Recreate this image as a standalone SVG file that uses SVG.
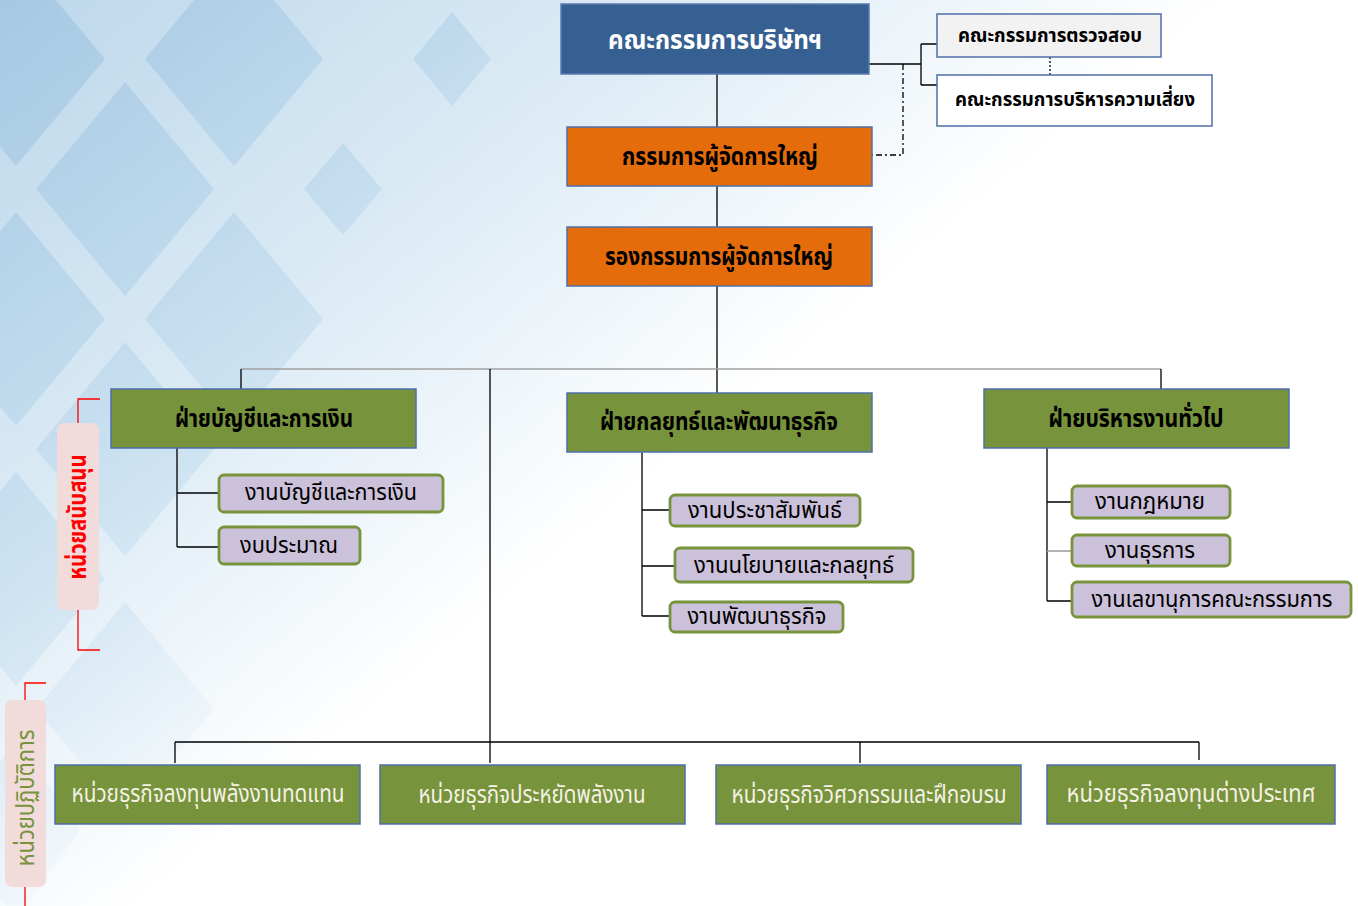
<svg xmlns="http://www.w3.org/2000/svg" width="1358" height="906" viewBox="0 0 1358 906">
<defs>
<linearGradient id="bgfade" x1="0" y1="0" x2="1" y2="0.8">
<stop offset="0" stop-color="#bcd7eb"/>
<stop offset="0.3" stop-color="#dcebf5"/>
<stop offset="0.55" stop-color="#ffffff"/>
</linearGradient>
<linearGradient id="diafade" gradientUnits="userSpaceOnUse" x1="0" y1="0" x2="520" y2="640">
<stop offset="0" stop-color="#9cc2df" stop-opacity="0.7"/>
<stop offset="0.6" stop-color="#b6d6ec" stop-opacity="0.4"/>
<stop offset="1" stop-color="#d8e9f4" stop-opacity="0"/>
</linearGradient>
<style>
.t{font-family:"Noto Sans Thai","Liberation Sans",sans-serif;text-anchor:middle;dominant-baseline:central}
.b{font-weight:bold}
.ln{stroke:#000;stroke-width:1.3;fill:none}
.lg{stroke:#a0a0a0;stroke-width:1.6;fill:none}
.board{fill:#376092;stroke:#5a7bb0;stroke-width:1.5}
.org{fill:#e46c0a;stroke:#4f6fa8;stroke-width:1.5}
.grn{fill:#77933c;stroke:#4f6fa8;stroke-width:1.5}
.sub{fill:#ccc1da;stroke:#77933c;stroke-width:2.8}
.cm{stroke:#4f6fa8;stroke-width:1.5}
.tag{fill:#f2dcdb}
.rb{stroke:#ff0000;stroke-width:1.3;fill:none}
</style>
</defs>
<g id="background">
<rect width="1358" height="906" fill="#ffffff"/>
<rect width="1358" height="906" fill="url(#bgfade)"/>
<g fill="url(#diafade)">
<polygon points="234,-48 323,59 234,166 145,59"/>
<polygon points="16,-48 105,59 16,166 -73,59"/>
<polygon points="125,82 214,189 125,296 36,189"/>
<polygon points="16,212 105,319 16,426 -73,319"/>
<polygon points="234,212 323,319 234,426 145,319"/>
<polygon points="125,342 214,449 125,556 36,449"/>
<polygon points="16,472 105,579 16,686 -73,579"/>
<polygon points="125,602 214,709 125,816 36,709"/>
<polygon points="452,12 491,59 452,106 413,59"/>
<polygon points="343,143 382,189 343,235 304,189"/>
<polygon points="16,740 80,830 16,920 -48,830"/>
</g>
</g>
<g id="connectors">
<path class="ln" d="M717,74V127M717,186V227M717,286V393"/>
<path class="lg" d="M241,369H1161"/>
<path class="ln" d="M241,369V389M1161,369V389M490,369V763"/>
<path class="ln" d="M175,742H1199M175,742V763M860,742V763M1199,742V760"/>
<path class="ln" d="M177,448V547M177,493H219M177,547H219"/>
<path class="ln" d="M642,452V616M642,510H670M642,566H675M642,616H670"/>
<path class="ln" d="M1047,448V601M1047,502H1072M1047,601H1072"/>
<path class="lg" d="M1047,551H1072"/>
<path class="ln" d="M869,64H921M921,44V85M921,44H937M921,85H937"/>
<path class="ln" d="M1050,57V75" stroke-dasharray="2,2"/>
<path class="ln" d="M903,64V155H872" stroke-dasharray="6,3,2,3"/>
</g>
<g id="n-board">
<rect class="board" x="561" y="4" width="308" height="70"/>
<text class="t b" x="715" y="40" font-size="27" fill="#ffffff" textLength="214" lengthAdjust="spacingAndGlyphs">คณะกรรมการบริษัทฯ</text>
</g>
<g id="n-audit">
<rect class="cm" x="937" y="14" width="224" height="43" fill="#f2f2f2"/>
<text class="t b" x="1050" y="36" font-size="20" fill="#000" textLength="184" lengthAdjust="spacingAndGlyphs">คณะกรรมการตรวจสอบ</text>
</g>
<g id="n-risk">
<rect class="cm" x="937" y="75" width="275" height="51" fill="#ffffff"/>
<text class="t b" x="1075" y="100" font-size="20" fill="#000" textLength="240" lengthAdjust="spacingAndGlyphs">คณะกรรมการบริหารความเสี่ยง</text>
</g>
<g id="n-ceo">
<rect class="org" x="567" y="127" width="305" height="59"/>
<text class="t b" x="720" y="157" font-size="25" fill="#000" textLength="196" lengthAdjust="spacingAndGlyphs">กรรมการผู้จัดการใหญ่</text>
</g>
<g id="n-vp">
<rect class="org" x="567" y="227" width="305" height="59"/>
<text class="t b" x="719" y="257" font-size="25" fill="#000" textLength="228" lengthAdjust="spacingAndGlyphs">รองกรรมการผู้จัดการใหญ่</text>
</g>
<g id="n-acc">
<rect class="grn" x="111" y="389" width="305" height="59"/>
<text class="t b" x="264" y="419" font-size="25" fill="#000" textLength="178" lengthAdjust="spacingAndGlyphs">ฝ่ายบัญชีและการเงิน</text>
</g>
<g id="n-strat">
<rect class="grn" x="567" y="393" width="305" height="59"/>
<text class="t b" x="719" y="422" font-size="25" fill="#000" textLength="238" lengthAdjust="spacingAndGlyphs">ฝ่ายกลยุทธ์และพัฒนาธุรกิจ</text>
</g>
<g id="n-admin">
<rect class="grn" x="984" y="389" width="305" height="59"/>
<text class="t b" x="1136" y="419" font-size="25" fill="#000" textLength="175" lengthAdjust="spacingAndGlyphs">ฝ่ายบริหารงานทั่วไป</text>
</g>
<g id="n-s1a">
<rect class="sub" x="219" y="475" width="224" height="37" rx="5"/>
<text class="t" x="331" y="493" font-size="23" fill="#000" textLength="172" lengthAdjust="spacingAndGlyphs">งานบัญชีและการเงิน</text>
</g>
<g id="n-s1b">
<rect class="sub" x="219" y="527" width="141" height="37" rx="5"/>
<text class="t" x="289" y="546" font-size="23" fill="#000" textLength="98" lengthAdjust="spacingAndGlyphs">งบประมาณ</text>
</g>
<g id="n-s2a">
<rect class="sub" x="670" y="495" width="190" height="31" rx="5"/>
<text class="t" x="765" y="511" font-size="23" fill="#000" textLength="154" lengthAdjust="spacingAndGlyphs">งานประชาสัมพันธ์</text>
</g>
<g id="n-s2b">
<rect class="sub" x="675" y="548" width="238" height="34" rx="5"/>
<text class="t" x="794" y="566" font-size="23" fill="#000" textLength="200" lengthAdjust="spacingAndGlyphs">งานนโยบายและกลยุทธ์</text>
</g>
<g id="n-s2c">
<rect class="sub" x="670" y="602" width="173" height="30" rx="5"/>
<text class="t" x="757" y="617" font-size="23" fill="#000" textLength="139" lengthAdjust="spacingAndGlyphs">งานพัฒนาธุรกิจ</text>
</g>
<g id="n-s3a">
<rect class="sub" x="1072" y="486" width="158" height="32" rx="5"/>
<text class="t" x="1150" y="502" font-size="23" fill="#000" textLength="110" lengthAdjust="spacingAndGlyphs">งานกฎหมาย</text>
</g>
<g id="n-s3b">
<rect class="sub" x="1072" y="535" width="158" height="31" rx="5"/>
<text class="t" x="1150" y="551" font-size="23" fill="#000" textLength="90" lengthAdjust="spacingAndGlyphs">งานธุรการ</text>
</g>
<g id="n-s3c">
<rect class="sub" x="1072" y="582" width="279" height="35" rx="5"/>
<text class="t" x="1212" y="600" font-size="23" fill="#000" textLength="241" lengthAdjust="spacingAndGlyphs">งานเลขานุการคณะกรรมการ</text>
</g>
<g id="n-bu1">
<rect class="grn" x="55" y="765" width="305" height="59"/>
<text class="t" x="208" y="794" font-size="25" fill="#f4f1e4" textLength="273" lengthAdjust="spacingAndGlyphs">หน่วยธุรกิจลงทุนพลังงานทดแทน</text>
</g>
<g id="n-bu2">
<rect class="grn" x="380" y="765" width="305" height="59"/>
<text class="t" x="532" y="795" font-size="25" fill="#f4f1e4" textLength="227" lengthAdjust="spacingAndGlyphs">หน่วยธุรกิจประหยัดพลังงาน</text>
</g>
<g id="n-bu3">
<rect class="grn" x="716" y="765" width="305" height="59"/>
<text class="t" x="869" y="795" font-size="25" fill="#f4f1e4" textLength="275" lengthAdjust="spacingAndGlyphs">หน่วยธุรกิจวิศวกรรมและฝึกอบรม</text>
</g>
<g id="n-bu4">
<rect class="grn" x="1047" y="765" width="288" height="59"/>
<text class="t" x="1191" y="795" font-size="24" fill="#f4f1e4" textLength="249" lengthAdjust="spacingAndGlyphs">หน่วยธุรกิจลงทุนต่างประเทศ</text>
</g>
<g id="n-support">
<path class="rb" d="M100,399H78V423M78,610V650H100"/>
<rect class="tag" x="57" y="423" width="42" height="187" rx="7"/>
<text class="t b" transform="translate(78,517) rotate(-90)" x="0" y="0" font-size="25" fill="#ff0000" textLength="125" lengthAdjust="spacingAndGlyphs">หน่วยสนับสนุน</text>
</g>
<g id="n-ops">
<path class="rb" d="M46,683H25V700M25,887V906"/>
<rect class="tag" x="5" y="700" width="41" height="187" rx="7"/>
<text class="t" transform="translate(26,798) rotate(-90)" x="0" y="0" font-size="25" fill="#77933c" textLength="137" lengthAdjust="spacingAndGlyphs">หน่วยปฏิบัติการ</text>
</g>
</svg>
